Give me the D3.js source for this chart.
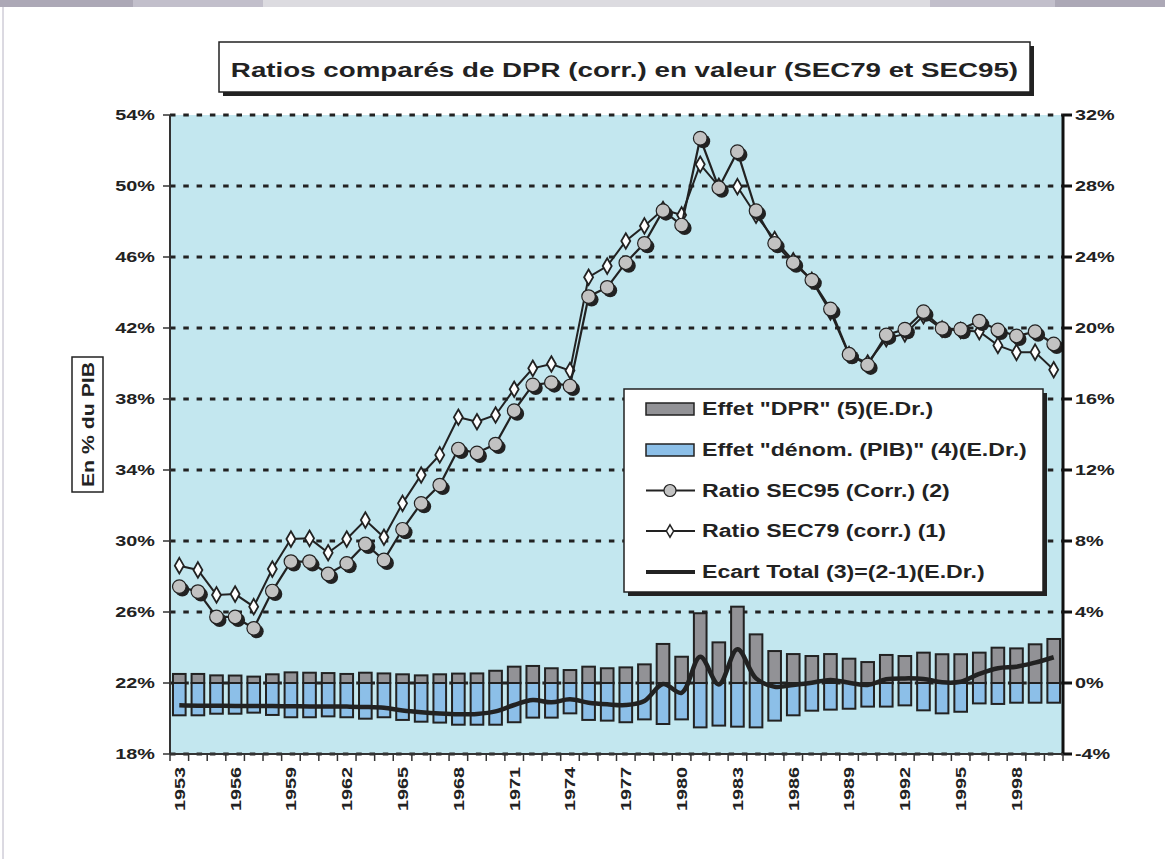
<!DOCTYPE html>
<html><head><meta charset="utf-8">
<script src="https://cdn.jsdelivr.net/npm/d3@7"></script>
<style>
html,body{margin:0;padding:0;background:#fff;}
svg{display:block;font-family:"Liberation Sans",Arial,sans-serif;}
</style></head>
<body>
<svg id="chart" width="1165" height="859"></svg>
<script>
const years = [1953,1954,1955,1956,1957,1958,1959,1960,1961,1962,1963,1964,1965,1966,1967,1968,1969,1970,1971,1972,1973,1974,1975,1976,1977,1978,1979,1980,1981,1982,1983,1984,1985,1986,1987,1988,1989,1990,1991,1992,1993,1994,1995,1996,1997,1998,1999,2000];
const yearLabels = [1953,1956,1959,1962,1965,1968,1971,1974,1977,1980,1983,1986,1989,1992,1995,1998];
const leftTicks = [18,22,26,30,34,38,42,46,50,54];
const rightTicks = [-4,0,4,8,12,16,20,24,28,32];

// Ratio SEC95 (Corr.) (2) - left axis, % of GDP
const sec95 = [27.43,27.15,25.72,25.72,25.08,27.18,28.84,28.84,28.14,28.74,29.83,28.93,30.66,32.12,33.15,35.18,34.96,35.46,37.34,38.79,38.92,38.73,43.77,44.29,45.68,46.77,48.61,47.80,52.69,49.90,51.93,48.61,46.77,45.68,44.70,43.07,40.52,39.92,41.61,41.93,42.92,41.98,41.93,42.39,41.89,41.55,41.79,41.10];
// Ratio SEC79 (corr.) (1) - left axis
const sec79 = [28.61,28.37,26.96,27.01,26.30,28.42,30.11,30.15,29.34,30.11,31.18,30.21,32.12,33.72,34.85,36.97,36.72,37.10,38.55,39.73,39.97,39.60,44.86,45.49,46.90,47.75,48.67,48.37,51.22,49.98,49.96,48.35,46.98,45.79,44.68,42.90,40.50,40.03,41.40,41.67,42.69,41.94,41.86,41.80,41.02,40.63,40.64,39.65];
// Effet "DPR" (5) - right axis
const effetDPR = [0.51,0.51,0.43,0.42,0.36,0.49,0.60,0.58,0.56,0.51,0.58,0.54,0.49,0.43,0.49,0.53,0.54,0.69,0.92,0.96,0.83,0.73,0.92,0.83,0.88,1.05,2.20,1.48,3.93,2.29,4.30,2.74,1.80,1.63,1.52,1.63,1.37,1.18,1.58,1.52,1.71,1.62,1.62,1.71,1.99,1.95,2.18,2.48];
// Effet "dénom. (PIB)" (4) - right axis
const effetDenom = [-1.82,-1.82,-1.73,-1.73,-1.67,-1.80,-1.93,-1.93,-1.88,-1.93,-2.01,-1.93,-2.08,-2.18,-2.23,-2.35,-2.35,-2.35,-2.21,-1.95,-1.95,-1.71,-2.08,-2.12,-2.21,-2.05,-2.31,-2.05,-2.50,-2.40,-2.46,-2.50,-2.12,-1.82,-1.56,-1.50,-1.45,-1.33,-1.33,-1.26,-1.54,-1.71,-1.62,-1.15,-1.18,-1.11,-1.11,-1.11];
// Ecart Total (3)=(2-1) - right axis
const ecart = [-1.26,-1.28,-1.28,-1.29,-1.30,-1.30,-1.31,-1.32,-1.32,-1.33,-1.35,-1.40,-1.55,-1.65,-1.72,-1.76,-1.74,-1.60,-1.24,-0.96,-1.09,-0.92,-1.11,-1.20,-1.24,-1.01,-0.06,-0.55,1.48,-0.08,1.90,0.26,-0.21,-0.11,0.02,0.17,0.02,-0.11,0.21,0.26,0.23,0.04,0.07,0.51,0.83,0.92,1.15,1.45];

const title = "Ratios comparés de DPR (corr.) en valeur (SEC79 et SEC95)";
const yTitle = "En % du PIB";
const legendLabels = ["Effet \"DPR\" (5)(E.Dr.)","Effet \"dénom. (PIB)\" (4)(E.Dr.)","Ratio SEC95 (Corr.) (2)","Ratio SEC79 (corr.) (1)","Ecart Total (3)=(2-1)(E.Dr.)"];

const C = {bg:"#c3e7ef", grey:"#929296", blue:"#8cbfe8", dark:"#222", marker:"#c2c2c2"};
const L=170, R=1063, T=115, B=754;
const STRETCH = 1.32;
const svg = d3.select("#chart");

function stretch(sel, k){
  k = k || STRETCH;
  sel.each(function(){
    const w = this.getComputedTextLength();
    d3.select(this).attr("textLength", w*k).attr("lengthAdjust","spacingAndGlyphs");
  });
}

// decorative window strip
const strip = [[0,133,"#aca8b6"],[133,263,"#c2bfcb"],[263,930,"#dcdbe0"],[930,1055,"#c2bfcb"],[1055,1165,"#aca8b6"]];
strip.forEach(s=>svg.append("rect").attr("x",s[0]).attr("y",0).attr("width",s[1]-s[0]).attr("height",7).attr("fill",s[2]));
svg.append("line").attr("x1",3).attr("x2",3).attr("y1",7).attr("y2",859).attr("stroke","#b8b4c4").attr("stroke-width",1);

const x = d3.scaleBand().domain(years).range([L,R]).padding(0);
const yL = d3.scaleLinear().domain([18,54]).range([B,T]);
const yR = d3.scaleLinear().domain([-4,32]).range([B,T]);
const cx = d => x(d) + x.bandwidth()/2;

// plot background
svg.append("rect").attr("x",L).attr("y",T).attr("width",R-L).attr("height",B-T).attr("fill",C.bg);

// grid lines
svg.append("g").selectAll("line").data(leftTicks).join("line")
  .attr("x1",L).attr("x2",R).attr("y1",d=>yL(d)).attr("y2",d=>yL(d))
  .attr("stroke",C.dark).attr("stroke-width",3).attr("stroke-dasharray","5.5,7.8");

// bars
const bw = x.bandwidth()*0.68;
const gBars = svg.append("g");
gBars.selectAll("rect.den").data(years).join("rect").attr("class","den")
  .attr("x",d=>cx(d)-bw/2).attr("width",bw)
  .attr("y",(d,i)=>Math.min(yR(0),yR(effetDenom[i])))
  .attr("height",(d,i)=>Math.abs(yR(effetDenom[i])-yR(0)))
  .attr("fill",C.blue).attr("stroke",C.dark).attr("stroke-width",2);
gBars.selectAll("rect.dpr").data(years).join("rect").attr("class","dpr")
  .attr("x",d=>cx(d)-bw/2).attr("width",bw)
  .attr("y",(d,i)=>Math.min(yR(0),yR(effetDPR[i])))
  .attr("height",(d,i)=>Math.abs(yR(effetDPR[i])-yR(0)))
  .attr("fill",C.grey).attr("stroke",C.dark).attr("stroke-width",2);

// ecart line
svg.append("path").datum(years)
  .attr("d",d3.line().x(d=>cx(d)).y((d,i)=>yR(ecart[i])).curve(d3.curveCatmullRom.alpha(0.5)))
  .attr("fill","none").attr("stroke",C.dark).attr("stroke-width",4.5).attr("stroke-linejoin","round");

// SEC79 line + diamonds
svg.append("path").datum(years)
  .attr("d",d3.line().x(d=>cx(d)).y((d,i)=>yL(sec79[i])))
  .attr("fill","none").attr("stroke",C.dark).attr("stroke-width",2);
const dia = d3.symbol().type(d3.symbolDiamond).size(70);
svg.append("g").selectAll("path").data(years).join("path")
  .attr("d",dia).attr("transform",(d,i)=>`translate(${cx(d)},${yL(sec79[i])})`)
  .attr("fill","#fff").attr("stroke",C.dark).attr("stroke-width",1.8);

// SEC95 line + circles
svg.append("path").datum(years)
  .attr("d",d3.line().x(d=>cx(d)).y((d,i)=>yL(sec95[i])))
  .attr("fill","none").attr("stroke",C.dark).attr("stroke-width",2.2);
const gc = svg.append("g");
years.forEach((d,i)=>{
  gc.append("circle").attr("cx",cx(d)+3).attr("cy",yL(sec95[i])+3).attr("r",7).attr("fill",C.dark);
  gc.append("circle").attr("cx",cx(d)).attr("cy",yL(sec95[i])).attr("r",6.8)
    .attr("fill",C.marker).attr("stroke",C.dark).attr("stroke-width",1.2);
});

// axes lines
svg.append("line").attr("x1",L).attr("x2",L).attr("y1",T).attr("y2",B).attr("stroke","#333").attr("stroke-width",2);
svg.append("line").attr("x1",R).attr("x2",R).attr("y1",T).attr("y2",B+1).attr("stroke","#111").attr("stroke-width",3);
svg.append("line").attr("x1",L).attr("x2",R).attr("y1",B).attr("y2",B).attr("stroke","#333").attr("stroke-width",2);

// left ticks + labels
const gl = svg.append("g");
gl.selectAll("line").data(leftTicks).join("line").attr("x1",L-7).attr("x2",L).attr("y1",d=>yL(d)).attr("y2",d=>yL(d)).attr("stroke","#333").attr("stroke-width",1.5);
gl.selectAll("text").data(leftTicks).join("text").attr("x",155).attr("y",d=>yL(d)).attr("dy","0.36em")
  .attr("text-anchor","end").attr("font-size",15).attr("font-weight","bold").attr("fill",C.dark).text(d=>d+"%").call(stretch);
// right ticks + labels
const gr = svg.append("g");
gr.selectAll("line").data(rightTicks).join("line").attr("x1",R).attr("x2",R+9).attr("y1",d=>yR(d)).attr("y2",d=>yR(d)).attr("stroke","#111").attr("stroke-width",3);
gr.selectAll("text").data(rightTicks).join("text").attr("x",1075).attr("y",d=>yR(d)).attr("dy","0.36em")
  .attr("text-anchor","start").attr("font-size",15).attr("font-weight","bold").attr("fill",C.dark).text(d=>d+"%").call(stretch);
// x ticks
const bounds = years.map(d=>x(d)).concat([R]);
svg.append("g").selectAll("line").data(bounds).join("line").attr("x1",d=>d).attr("x2",d=>d).attr("y1",B).attr("y2",B+7).attr("stroke","#333").attr("stroke-width",1.5);
svg.append("g").selectAll("text").data(yearLabels).join("text")
  .attr("transform",d=>`translate(${cx(d)},${B+13}) rotate(-90)`).attr("dy","0.36em")
  .attr("text-anchor","end").attr("font-size",15).attr("font-weight","bold").attr("fill",C.dark).text(d=>d).call(stretch);

// title
svg.append("rect").attr("x",223).attr("y",46).attr("width",811).attr("height",50).attr("fill",C.dark);
svg.append("rect").attr("x",219).attr("y",42).attr("width",811).attr("height",50).attr("fill","#fff").attr("stroke",C.dark).attr("stroke-width",1.5);
svg.append("text").attr("x",624.5).attr("y",69).attr("dy","0.36em").attr("text-anchor","middle")
  .attr("font-size",21).attr("font-weight","bold").attr("fill",C.dark).text(title).call(stretch);

// y title
svg.append("rect").attr("x",72).attr("y",357).attr("width",31).attr("height",135).attr("fill","#fff").attr("stroke",C.dark).attr("stroke-width",1.5);
svg.append("text").attr("transform","translate(88,424.5) rotate(-90)").attr("dy","0.36em").attr("text-anchor","middle")
  .attr("font-size",17).attr("font-weight","bold").attr("fill",C.dark).text(yTitle).call(stretch, 1.25);

// legend
const lg = svg.append("g");
lg.append("rect").attr("x",628).attr("y",393).attr("width",419).attr("height",203).attr("fill",C.dark);
lg.append("rect").attr("x",624).attr("y",389).attr("width",419).attr("height",203).attr("fill","#fff").attr("stroke",C.dark).attr("stroke-width",1.5);
const rowY = [409,450,490.5,531,572];
legendLabels.forEach((t,i)=>{
  lg.append("text").attr("x",702).attr("y",rowY[i]).attr("dy","0.36em").attr("font-size",17.5).attr("font-weight","bold").attr("fill",C.dark).text(t).call(stretch);
});
lg.append("rect").attr("x",646).attr("y",rowY[0]-6).attr("width",48).attr("height",12).attr("fill",C.grey).attr("stroke",C.dark).attr("stroke-width",1.5);
lg.append("rect").attr("x",646).attr("y",rowY[1]-6).attr("width",48).attr("height",12).attr("fill",C.blue).attr("stroke",C.dark).attr("stroke-width",1.5);
lg.append("line").attr("x1",646).attr("x2",695).attr("y1",rowY[2]).attr("y2",rowY[2]).attr("stroke",C.dark).attr("stroke-width",1.8);
lg.append("circle").attr("cx",670).attr("cy",rowY[2]).attr("r",6).attr("fill",C.marker).attr("stroke",C.dark).attr("stroke-width",1.2);
lg.append("line").attr("x1",646).attr("x2",695).attr("y1",rowY[3]).attr("y2",rowY[3]).attr("stroke",C.dark).attr("stroke-width",1.8);
lg.append("path").attr("d",d3.symbol().type(d3.symbolDiamond).size(45)).attr("transform",`translate(670,${rowY[3]})`).attr("fill","#fff").attr("stroke",C.dark).attr("stroke-width",1.5);
lg.append("line").attr("x1",646).attr("x2",695).attr("y1",rowY[4]).attr("y2",rowY[4]).attr("stroke",C.dark).attr("stroke-width",4);
</script>
</body></html>
